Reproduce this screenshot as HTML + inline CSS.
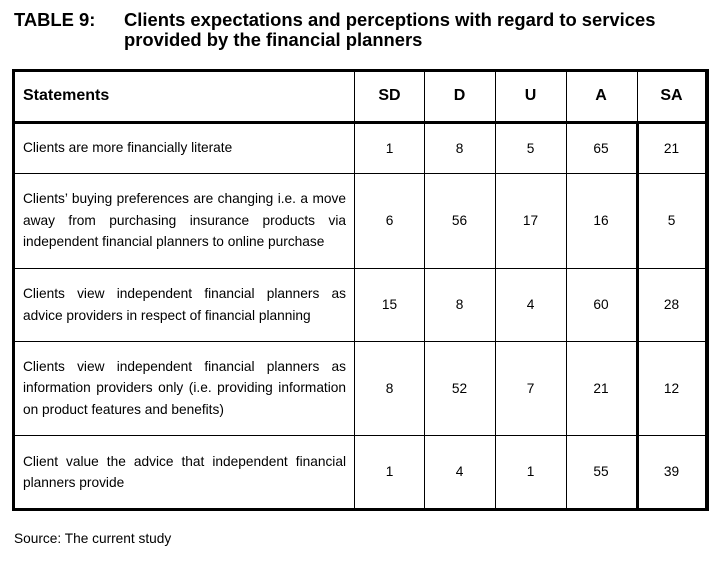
<!DOCTYPE html>
<html><head><meta charset="utf-8"><style>
html,body{margin:0;padding:0;background:#fff;}
body{width:720px;height:565px;position:relative;overflow:hidden;font-family:"Liberation Sans",Arial,sans-serif;color:#000;}
.l{position:absolute;background:#000;}
.t{position:absolute;font-size:13.7px;line-height:16px;white-space:nowrap;}
.j{position:absolute;font-size:13.7px;line-height:16px;width:323px;text-align:justify;text-align-last:justify;left:23px;}
.n{position:absolute;font-size:13.7px;line-height:16px;text-align:center;width:60px;}
.h{position:absolute;font-size:16px;line-height:20px;font-weight:bold;white-space:nowrap;}
.hc{position:absolute;font-size:16px;line-height:20px;font-weight:bold;text-align:center;width:60px;}
.ti{position:absolute;font-size:18.4px;line-height:22px;font-weight:bold;white-space:nowrap;}
</style></head><body>
<div class="ti" style="left:14px;top:8.6px;">TABLE 9:</div>
<div class="ti" style="left:124px;top:8.6px;">Clients expectations and perceptions with regard to services</div>
<div class="ti" style="left:124px;top:29.1px;">provided by the financial planners</div>

<!-- borders -->
<div class="l" style="left:12px;top:69px;width:697px;height:3px;"></div>
<div class="l" style="left:12px;top:121px;width:697px;height:3px;"></div>
<div class="l" style="left:12px;top:173px;width:697px;height:1px;"></div>
<div class="l" style="left:12px;top:268px;width:697px;height:1px;"></div>
<div class="l" style="left:12px;top:341px;width:697px;height:1px;"></div>
<div class="l" style="left:12px;top:435px;width:697px;height:1px;"></div>
<div class="l" style="left:12px;top:508px;width:697px;height:3px;"></div>
<div class="l" style="left:12px;top:69px;width:3.3px;height:442px;"></div>
<div class="l" style="left:705px;top:69px;width:4px;height:442px;"></div>
<div class="l" style="left:354px;top:69px;width:1px;height:442px;"></div>
<div class="l" style="left:424px;top:69px;width:1px;height:442px;"></div>
<div class="l" style="left:495px;top:69px;width:1px;height:442px;"></div>
<div class="l" style="left:566px;top:69px;width:1px;height:442px;"></div>
<div class="l" style="left:636.5px;top:69px;width:1px;height:55px;"></div>
<div class="l" style="left:636px;top:121px;width:2.5px;height:390px;"></div>

<!-- header -->
<div class="h" style="left:23px;top:86px;">Statements</div>
<div class="hc" style="left:359.5px;top:86px;">SD</div>
<div class="hc" style="left:429.5px;top:86px;">D</div>
<div class="hc" style="left:500.5px;top:86px;">U</div>
<div class="hc" style="left:571px;top:86px;">A</div>
<div class="hc" style="left:641.5px;top:86px;">SA</div>

<!-- row 1 -->
<div class="t" style="left:23px;top:140.3px;">Clients are more financially literate</div>
<div class="n" style="left:359.5px;top:140.6px;">1</div>
<div class="n" style="left:429.5px;top:140.6px;">8</div>
<div class="n" style="left:500.5px;top:140.6px;">5</div>
<div class="n" style="left:571px;top:140.6px;">65</div>
<div class="n" style="left:641.5px;top:140.6px;">21</div>

<!-- row 2 -->
<div class="j" style="top:191.3px;">Clients’ buying preferences are changing i.e. a move</div>
<div class="j" style="top:212.8px;">away from purchasing insurance products via</div>
<div class="t" style="left:23px;top:234.3px;">independent financial planners to online purchase</div>
<div class="n" style="left:359.5px;top:212.6px;">6</div>
<div class="n" style="left:429.5px;top:212.6px;">56</div>
<div class="n" style="left:500.5px;top:212.6px;">17</div>
<div class="n" style="left:571px;top:212.6px;">16</div>
<div class="n" style="left:641.5px;top:212.6px;">5</div>

<!-- row 3 -->
<div class="j" style="top:286px;">Clients view independent financial planners as</div>
<div class="t" style="left:23px;top:307.5px;">advice providers in respect of financial planning</div>
<div class="n" style="left:359.5px;top:296.6px;">15</div>
<div class="n" style="left:429.5px;top:296.6px;">8</div>
<div class="n" style="left:500.5px;top:296.6px;">4</div>
<div class="n" style="left:571px;top:296.6px;">60</div>
<div class="n" style="left:641.5px;top:296.6px;">28</div>

<!-- row 4 -->
<div class="j" style="top:358.7px;">Clients view independent financial planners as</div>
<div class="j" style="top:380.2px;">information providers only (i.e. providing information</div>
<div class="t" style="left:23px;top:401.7px;">on product features and benefits)</div>
<div class="n" style="left:359.5px;top:380.6px;">8</div>
<div class="n" style="left:429.5px;top:380.6px;">52</div>
<div class="n" style="left:500.5px;top:380.6px;">7</div>
<div class="n" style="left:571px;top:380.6px;">21</div>
<div class="n" style="left:641.5px;top:380.6px;">12</div>

<!-- row 5 -->
<div class="j" style="top:453.5px;">Client value the advice that independent financial</div>
<div class="t" style="left:23px;top:475px;">planners provide</div>
<div class="n" style="left:359.5px;top:464.1px;">1</div>
<div class="n" style="left:429.5px;top:464.1px;">4</div>
<div class="n" style="left:500.5px;top:464.1px;">1</div>
<div class="n" style="left:571px;top:464.1px;">55</div>
<div class="n" style="left:641.5px;top:464.1px;">39</div>

<div class="t" style="left:14px;top:531.3px;">Source: The current study</div>
</body></html>
